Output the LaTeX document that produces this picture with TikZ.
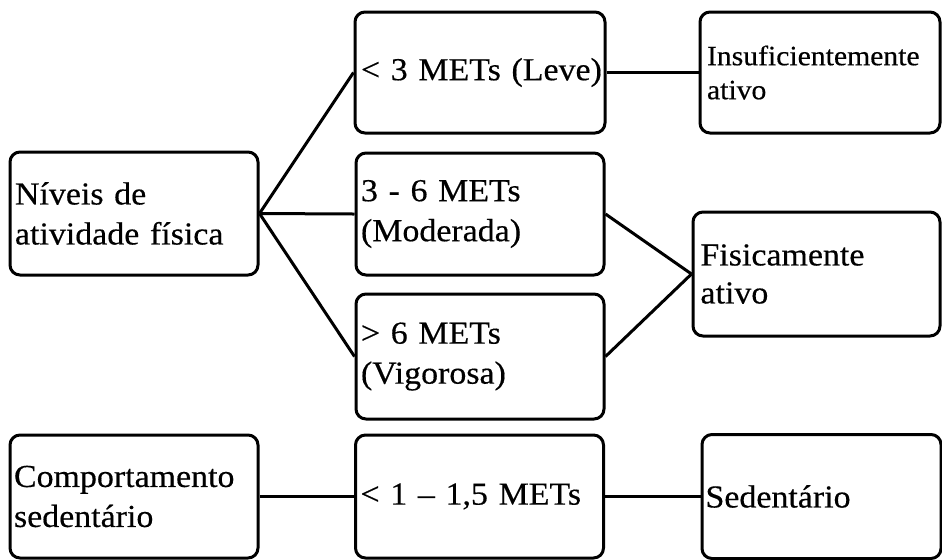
\documentclass[tikz,border=0pt]{standalone}
\usepackage{fontspec}
\setmainfont{Liberation Serif}[FakeStretch=1.06, FakeBold=0.4]
\usetikzlibrary{positioning}
\tikzset{>=latex}
\tikzset{
  levelbox/.style = {draw, rounded corners = 5pt, line width = 1.5pt, inner xsep = 2.5pt, inner ysep = 0pt,
    align = left, font = \fontsize{16}{20}\selectfont},
  link/.style = {line width = 1.5pt}
}

\begin{document}
\begin{tikzpicture}[x = 0.5pt, y = -0.5pt]
\useasboundingbox (0,0) rectangle (942,559);
% physical activity levels
\node [levelbox, minimum width = 124pt, minimum height = 61.5pt, text width = 119pt] (niveis) at (134, 213.5) {N\'iveis de\\atividade f\'isica};
\node [levelbox, minimum width = 124pt, minimum height = 60.5pt, text width = 119pt, inner xsep = 3pt] (leve) at (480, 72.5) {<~3~METs~(Leve)};
\node [levelbox, minimum width = 124pt, minimum height = 61pt, text width = 119pt] (moderada) at (480, 214) {3 - 6 METs\\(Moderada)};
\node [levelbox, minimum width = 124pt, minimum height = 62.5pt, text width = 119pt] (vigorosa) at (480, 356.5) {> 6 METs\\(Vigorosa)};
\node [levelbox, minimum width = 120pt, minimum height = 60.5pt, text width = 113pt, inner xsep = 3.5pt,
  font = \fontsize{14}{17}\selectfont] (insuf) at (820, 72.5) {Insuficientemente\\ativo};
\node [levelbox, minimum width = 123.5pt, minimum height = 62pt, text width = 116pt, inner xsep = 3.75pt,
  font = \fontsize{16}{19}\selectfont] (fisic) at (816.5, 274) {Fisicamente\\ativo};
% sedentary behaviour
\node [levelbox, minimum width = 124pt, minimum height = 61.5pt, text width = 120pt, inner xsep = 2pt] (comport) at (134, 496.5) {Comportamento\\sedent\'ario};
\node [levelbox, minimum width = 123.5pt, minimum height = 61.5pt, text width = 119pt] (sedmets) at (479.5, 496.5) {< 1 -- 1,5 METs};
\node [levelbox, minimum width = 119.5pt, minimum height = 62pt, text width = 116pt, inner xsep = 1.75pt] (sedent) at (821.5, 496.5) {Sedent\'ario};
% connectors
\draw [link] (niveis.east) -- (leve.west);
\draw [link] (niveis.east) -- (moderada.west);
\draw [link] (niveis.east) -- (vigorosa.west);
\draw [link] (leve.east) -- (insuf.west);
\draw [link] (moderada.east) -- (fisic.west);
\draw [link] (vigorosa.east) -- (fisic.west);
\draw [link] (comport.east) -- (sedmets.west);
\draw [link] (sedmets.east) -- (sedent.west);
\end{tikzpicture}
\end{document}
